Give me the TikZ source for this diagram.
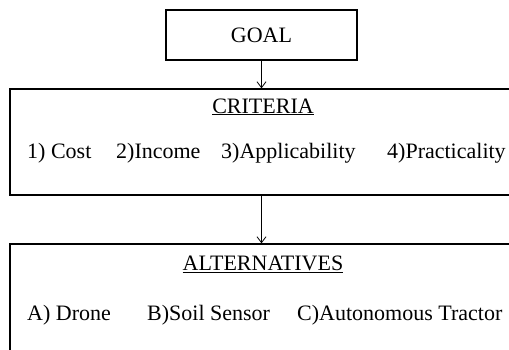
\documentclass[tikz,border=0pt]{standalone}
\usepackage{fontspec}
\setmainfont{Liberation Serif}
\usetikzlibrary{arrows.meta}

\begin{document}
\begin{tikzpicture}[x=1pt,y=-1pt,font=\fontsize{22}{26}\selectfont,
    box/.style={draw,line width=1.3pt,inner sep=0pt},
    item/.style={anchor=base west,inner sep=0pt},
    title/.style={anchor=base,inner sep=0pt},
    link/.style={line width=0.8pt,-{Straight Barb[length=6pt,width=9pt]}}]
          \useasboundingbox (0,0) rectangle (509,349);
          \clip (0,0) rectangle (509,349);
          \node[box,minimum width=191pt,minimum height=50pt] (goal) at (261.5,35) {GOAL};
          \node[box,minimum width=510pt,minimum height=106pt] (crit) at (265,142) {};
          \node[box,minimum width=510pt,minimum height=116pt] (alt) at (265,302) {};

          \node[title] (crittitle) at (263,113) {\underline{CRITERIA}};
          \node[item] (c1) at (27,158) {1) Cost};
          \node[item] (c2) at (116,158) {2)Income};
          \node[item] (c3) at (221,158) {3)Applicability};
          \node[item] (c4) at (387,158) {4)Practicality};

          \node[title] (alttitle) at (263,270) {\underline{ALTERNATIVES}};
          \node[item] (a1) at (27,320) {A) Drone};
          \node[item] (a2) at (147,320) {B)Soil Sensor};
          \node[item] (a3) at (297,320) {C)Autonomous Tractor};

          \draw[link] (goal.south) -- (goal.south |- crit.north);
          \draw[link] (goal.south |- crit.south) -- (goal.south |- alt.north);
        \end{tikzpicture}
\end{document}
